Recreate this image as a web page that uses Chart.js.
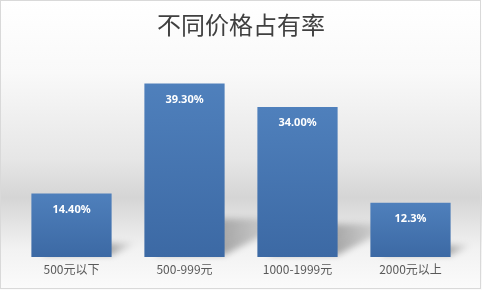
<!DOCTYPE html>
<html>
<head>
<meta charset="utf-8">
<script src="https://cdn.jsdelivr.net/npm/chart.js@4"></script>
<style>
  body { margin: 0; background: #fff; }
  #wrap {
    position: relative; width: 482px; height: 290px;
    background: linear-gradient(to bottom, #ffffff 0%, #f9f9f9 25%, #e6e6e6 55%, #d5d5d5 68%, #f2f2f2 86%, #fbfbfb 100%);
  }
  #frame {
    position: absolute; left: 0; top: 0; width: 481px; height: 289px;
    box-sizing: border-box; border: 1px solid #d9d9d9; pointer-events: none;
  }
</style>
</head>
<body>
<div id="wrap">
  <canvas id="chart" width="482" height="290"></canvas>
  <div id="frame"></div>
</div>
<script>
const titleText = "不同价格占有率";
const categories = ["500元以下", "500-999元", "1000-1999元", "2000元以上"];
const shares = [14.4, 39.3, 34.0, 12.3];
const shareLabels = ["14.40%", "39.30%", "34.00%", "12.3%"];

function barGradient(ctx) {
  const chart = ctx.chart;
  const area = chart.chartArea;
  if (!area || ctx.dataIndex === undefined) return "#4a7ab5";
  const top = chart.scales.y.getPixelForValue(shares[ctx.dataIndex]);
  const g = chart.ctx.createLinearGradient(0, top, 0, area.bottom);
  g.addColorStop(0, "#4f80bc");
  g.addColorStop(1, "#3c69a4");
  return g;
}

// soft perspective shadow behind each bar
const barShadow = {
  id: "barShadow",
  beforeDatasetsDraw(chart) {
    const ctx = chart.ctx;
    const meta = chart.getDatasetMeta(0);
    meta.data.forEach((bar) => {
      const p = bar.getProps(["x", "y", "base", "width"], true);
      const h = p.base - p.y;
      const xl = p.x - p.width / 2, xr = p.x + p.width / 2;
      const dy = h * 0.22, dx = h * 0.4;
      ctx.save();
      ctx.filter = "blur(3px)";
      const g = ctx.createLinearGradient(xr, p.base, xr + dx, p.base - dy);
      g.addColorStop(0, "rgba(0,0,0,0.32)");
      g.addColorStop(1, "rgba(0,0,0,0)");
      ctx.fillStyle = g;
      ctx.beginPath();
      ctx.moveTo(xl + 10, p.base - 2);
      ctx.lineTo(xr, p.base - 2);
      ctx.lineTo(xr + dx, p.base - dy);
      ctx.lineTo(xl + dx, p.base - dy);
      ctx.closePath();
      ctx.fill();
      ctx.restore();
    });
  },
};

const valueLabels = {
  id: "valueLabels",
  afterDatasetsDraw(chart) {
    const ctx = chart.ctx;
    const meta = chart.getDatasetMeta(0);
    ctx.save();
    ctx.fillStyle = "#ffffff";
    ctx.font = "bold 11px 'Noto Sans', 'DejaVu Sans', sans-serif";
    ctx.textAlign = "center";
    ctx.textBaseline = "middle";
    meta.data.forEach((bar, i) => {
      ctx.fillText(shareLabels[i], bar.x, bar.y + 16);
    });
    ctx.restore();
  },
};

new Chart(document.getElementById("chart"), {
  type: "bar",
  data: {
    labels: categories,
    datasets: [{
      data: shares,
      backgroundColor: barGradient,
      borderWidth: 0,
      categoryPercentage: 1,
      barPercentage: 0.71,
    }],
  },
  options: {
    responsive: false,
    animation: false,
    layout: { padding: { left: 15, right: 15, bottom: 13, top: 0 } },
    plugins: {
      legend: { display: false },
      tooltip: { enabled: false },
      title: {
        display: true,
        text: titleText,
        color: "#404040",
        font: { family: "'Noto Sans CJK SC', sans-serif", size: 24, weight: "normal", lineHeight: 1.2 },
        padding: { top: 10, bottom: 19.6 },
      },
    },
    scales: {
      x: {
        grid: { display: false, drawTicks: false },
        border: { display: false },
        afterFit(scale) { scale.height = 20; },
        ticks: {
          color: "#595959",
          padding: 5,
          font: { family: "'Noto Sans CJK SC', sans-serif", size: 12, lineHeight: 1.2 },
        },
      },
      y: { display: false, min: 0, max: 45 },
    },
  },
  plugins: [barShadow, valueLabels],
});
</script>
</body>
</html>
